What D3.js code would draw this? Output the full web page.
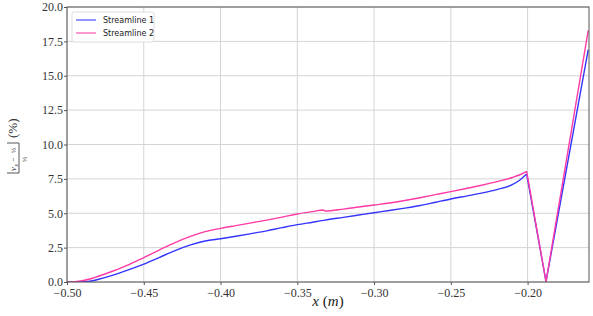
<!DOCTYPE html>
<html>
<head>
<meta charset="utf-8">
<script src="https://cdn.jsdelivr.net/npm/d3@7"></script>
<style>
  body { margin: 0; background: #fff; }
</style>
</head>
<body>
<div id="chart"></div>
<script>
// x positions (m), shared by both streamlines
var xValues = [-0.50, -0.495, -0.49, -0.485, -0.48, -0.47, -0.46, -0.45, -0.44, -0.43, -0.42, -0.41,
    -0.40, -0.39, -0.38, -0.37, -0.36, -0.35, -0.34, -0.333, -0.332, -0.32, -0.31, -0.30,
    -0.29, -0.28, -0.27, -0.26, -0.25, -0.24, -0.23, -0.22, -0.21, -0.205, -0.2006, -0.188, -0.1605];

var streamline1 = [0.0, 0.0, 0.0, 0.05, 0.18, 0.5, 0.88, 1.3, 1.78, 2.27, 2.68, 2.98,
    3.15, 3.33, 3.52, 3.72, 3.95, 4.17, 4.35, 4.48, 4.5, 4.7, 4.87, 5.04,
    5.2, 5.37, 5.56, 5.8, 6.04, 6.25, 6.46, 6.72, 7.08, 7.42, 7.85, 0.03, 16.9];

var streamline2 = [0.0, 0.03, 0.1, 0.22, 0.4, 0.8, 1.25, 1.78, 2.32, 2.85, 3.3, 3.66,
    3.9, 4.1, 4.3, 4.5, 4.72, 4.95, 5.12, 5.24, 5.16, 5.3, 5.45, 5.6,
    5.75, 5.93, 6.13, 6.35, 6.57, 6.8, 7.04, 7.3, 7.6, 7.8, 8.05, 0.03, 18.3];

var peakIndex = 34; // sharp corner at x = -0.2006

var seriesNames = ["Streamline 1", "Streamline 2"];
var seriesColors = ["#3434ff", "#ff3aa6"];

var xTicks = [-0.50, -0.45, -0.40, -0.35, -0.30, -0.25, -0.20];
var yTicks = [0.0, 2.5, 5.0, 7.5, 10.0, 12.5, 15.0, 17.5, 20.0];

var serif = "'Liberation Serif', serif";

var margin = {top: 7, right: 4, bottom: 34, left: 67},
    width = 593 - margin.left - margin.right,
    height = 316 - margin.top - margin.bottom;

var x = d3.scaleLinear().domain([-0.5, -0.16]).range([0, width]);
var y = d3.scaleLinear().domain([0, 20]).range([height, 0]);

var svg = d3.select("#chart").append("svg")
    .attr("width", 593)
    .attr("height", 316);

var g = svg.append("g")
    .attr("transform", "translate(" + margin.left + "," + margin.top + ")");

g.append("defs").append("clipPath")
    .attr("id", "plotclip")
    .append("rect")
    .attr("width", width)
    .attr("height", height);

// grid
g.append("g").selectAll("line").data(xTicks).enter().append("line")
    .attr("x1", function(d) { return x(d); })
    .attr("x2", function(d) { return x(d); })
    .attr("y1", 0).attr("y2", height)
    .style("stroke", "#d4d4d4").style("stroke-width", 1);

g.append("g").selectAll("line").data(yTicks).enter().append("line")
    .attr("y1", function(d) { return y(d); })
    .attr("y2", function(d) { return y(d); })
    .attr("x1", 0).attr("x2", width)
    .style("stroke", "#d4d4d4").style("stroke-width", 1);

// axes
var xAxis = g.append("g")
    .attr("transform", "translate(0," + height + ")")
    .call(d3.axisBottom(x).tickValues(xTicks).tickFormat(d3.format(".2f")).tickSize(3).tickPadding(3));

var yAxis = g.append("g")
    .call(d3.axisLeft(y).tickValues(yTicks).tickFormat(d3.format(".1f")).tickSize(3).tickPadding(1));

[xAxis, yAxis].forEach(function(a) {
    a.select(".domain").remove();
    a.selectAll(".tick line").style("stroke", "#555");
    a.selectAll("text")
        .style("font-family", serif)
        .style("font-size", "12px")
        .style("fill", "#333");
});

// lines: smooth part with monotone curve, the sharp V drawn straight
var smoothLine = d3.line()
    .x(function(d) { return x(d[0]); })
    .y(function(d) { return y(d[1]); })
    .curve(d3.curveMonotoneX);
var straightLine = d3.line()
    .x(function(d) { return x(d[0]); })
    .y(function(d) { return y(d[1]); });

[streamline1, streamline2].forEach(function(vals, i) {
    var pts = xValues.map(function(xv, j) { return [xv, vals[j]]; });
    g.append("path")
        .datum(pts.slice(0, peakIndex + 1))
        .attr("clip-path", "url(#plotclip)")
        .style("fill", "none")
        .style("stroke", seriesColors[i])
        .style("stroke-width", "1.4px")
        .attr("d", smoothLine);
    g.append("path")
        .datum(pts.slice(peakIndex))
        .attr("clip-path", "url(#plotclip)")
        .style("fill", "none")
        .style("stroke", seriesColors[i])
        .style("stroke-width", "1.4px")
        .attr("d", straightLine);
});

// frame
g.append("rect")
    .attr("width", width)
    .attr("height", height)
    .style("fill", "none")
    .style("stroke", "#555")
    .style("stroke-width", 1);

// legend
var legend = g.append("g").attr("transform", "translate(5,5)");
legend.append("rect")
    .attr("width", 82).attr("height", 30)
    .attr("rx", 2)
    .style("fill", "#fff")
    .style("stroke", "#ddd");
seriesNames.forEach(function(name, i) {
    var row = legend.append("g").attr("transform", "translate(0," + (8 + i * 13) + ")");
    row.append("line")
        .attr("x1", 4).attr("x2", 24)
        .style("stroke", seriesColors[i])
        .style("stroke-opacity", 0.75)
        .style("stroke-width", 1.4);
    row.append("text")
        .attr("x", 31).attr("y", 3)
        .style("font-family", "'DejaVu Sans', sans-serif")
        .style("font-size", "8px")
        .style("fill", "#222")
        .text(name);
});

// x label
var xl = svg.append("text")
    .attr("x", 328).attr("y", 306)
    .attr("text-anchor", "middle")
    .style("font-family", serif)
    .style("font-size", "15px")
    .style("fill", "#222");
xl.append("tspan").style("font-style", "italic").text("x");
xl.append("tspan").text(" (");
xl.append("tspan").style("font-style", "italic").text("m");
xl.append("tspan").text(")");

// y label: |(v_x - 1/2) / (1/2)| (%)
var yl = svg.append("g")
    .attr("transform", "translate(19,173) rotate(-90)")
    .style("font-family", serif)
    .style("fill", "#333");
yl.append("path")
    .attr("d", "M0,-12V0H30V-12")
    .style("fill", "none")
    .style("stroke", "#444")
    .style("stroke-width", 0.9);
yl.append("text")
    .attr("x", 2).attr("y", -3)
    .style("font-size", "9px")
    .style("font-style", "italic")
    .text("v");
yl.append("text")
    .attr("x", 6.5).attr("y", -1.5)
    .style("font-size", "5.5px")
    .style("font-style", "italic")
    .text("x");
yl.append("text")
    .attr("x", 11).attr("y", -3.5)
    .style("font-size", "8px")
    .text("\u2212");
yl.append("text")
    .attr("x", 20).attr("y", -3)
    .style("font-size", "7px")
    .text("\u00bd");
yl.append("text")
    .attr("x", 11).attr("y", 7.5)
    .style("font-size", "7px")
    .text("\u00bd");
yl.append("text")
    .attr("x", 35).attr("y", -2)
    .style("font-size", "13px")
    .text("(%)");
</script>
</body>
</html>
